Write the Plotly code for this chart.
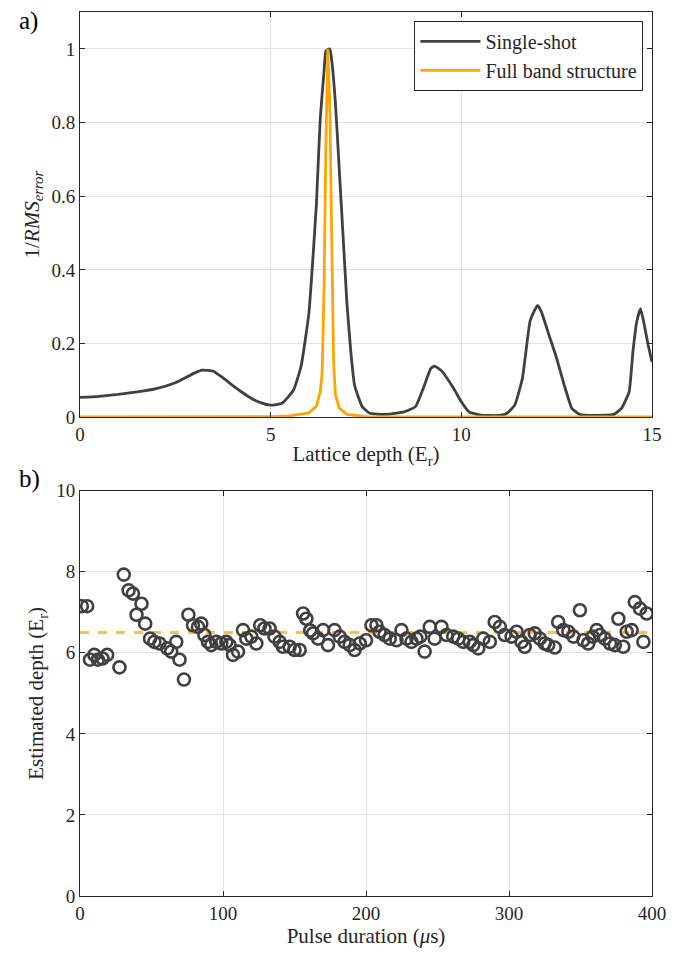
import plotly.graph_objects as go
from plotly.subplots import make_subplots

# ---- Panel a data ----
depth_ss = [0, 0.5, 1, 1.5, 2, 2.5, 3, 3.2, 3.5, 3.75, 4, 4.25, 4.5, 4.75, 5, 5.3, 5.6, 5.8, 6.0,
            6.1, 6.2, 6.3, 6.4, 6.45, 6.55, 6.6, 6.7, 6.8, 6.9, 7.0, 7.1, 7.2, 7.4, 7.6, 8.0,
            8.5, 8.8, 9.0, 9.2, 9.3, 9.5, 9.8, 10.0, 10.2, 10.5, 11.0, 11.2, 11.4, 11.6, 11.8,
            11.9, 12.0, 12.1, 12.3, 12.5, 12.7, 12.9, 13.1, 13.5, 14.0, 14.2, 14.4, 14.5, 14.6,
            14.7, 14.8, 14.9, 15.0]
single_shot = [0.054, 0.057, 0.062, 0.069, 0.078, 0.094, 0.120, 0.128, 0.125, 0.107, 0.087,
               0.068, 0.051, 0.039, 0.033, 0.038, 0.074, 0.14, 0.28, 0.42, 0.58, 0.81, 0.94,
               0.995, 1.0, 0.97, 0.85, 0.67, 0.49, 0.31, 0.18, 0.087, 0.029, 0.011, 0.008,
               0.015, 0.029, 0.078, 0.133, 0.139, 0.124, 0.078, 0.042, 0.015, 0.006, 0.005,
               0.011, 0.033, 0.105, 0.26, 0.286, 0.304, 0.286, 0.223, 0.16, 0.087, 0.024,
               0.008, 0.005, 0.008, 0.024, 0.069, 0.178, 0.26, 0.295, 0.25, 0.196, 0.15]

depth_fb = [0, 2, 4, 5, 5.5, 6.0, 6.2, 6.3, 6.35, 6.4, 6.45, 6.5, 6.55, 6.6, 6.65, 6.7, 6.8,
            7.0, 7.5, 8, 10, 12, 15]
full_band = [0.001, 0.001, 0.001, 0.002, 0.004, 0.012, 0.03, 0.07, 0.12, 0.35, 0.75, 1.0,
             0.85, 0.45, 0.15, 0.06, 0.025, 0.008, 0.002, 0.001, 0.001, 0.001, 0.001]

# ---- Panel b data ----
pulse_us = [1.3, 5.0, 7.0, 10.0, 12.5, 15.7, 19.0, 27.6, 30.6, 34.0, 37.0, 39.5, 43.0, 45.6,
            49.0, 52.0, 55.6, 61.0, 63.8, 67.3, 69.6, 72.7, 75.8, 79.0, 82.5, 84.8, 87.0,
            89.5, 91.8, 95.3, 98.8, 102.3, 104.6, 107.0, 110.5, 114.0, 116.3, 119.8, 123.3,
            126.0, 129.0, 132.6, 136.0, 139.6, 142.0, 146.6, 150.0, 153.6, 156.0, 158.3,
            161.0, 163.0, 166.5, 170.0, 173.4, 178.0, 181.6, 185.0, 188.6, 192.0, 195.6,
            200.0, 203.8, 207.3, 209.5, 213.0, 216.6, 221.3, 224.8, 228.3, 231.8, 235.3,
            238.0, 241.0, 244.6, 248.0, 252.8, 256.3, 261.0, 264.5, 268.0, 272.6, 275.0,
            278.5, 282.0, 286.6, 290.0, 293.6, 297.0, 301.8, 305.3, 308.8, 311.0, 314.5,
            318.0, 321.6, 325.0, 327.4, 332.0, 334.4, 338.0, 341.5, 345.0, 349.6, 352.0,
            355.4, 358.5, 361.3, 363.6, 367.0, 370.6, 374.0, 376.5, 379.9, 382.3, 385.8,
            388.0, 391.6, 394.0, 396.3]
est_depth = [7.15, 7.15, 5.83, 5.95, 5.83, 5.86, 5.95, 5.64, 7.93, 7.54, 7.46, 6.94, 7.21,
             6.72, 6.35, 6.27, 6.23, 6.11, 6.03, 6.27, 5.83, 5.34, 6.94, 6.68, 6.64, 6.72,
             6.44, 6.27, 6.19, 6.27, 6.23, 6.27, 6.19, 5.95, 6.03, 6.56, 6.35, 6.40, 6.23,
             6.68, 6.60, 6.60, 6.40, 6.27, 6.15, 6.15, 6.07, 6.07, 6.97, 6.84, 6.55, 6.48,
             6.35, 6.56, 6.19, 6.56, 6.40, 6.27, 6.19, 6.07, 6.23, 6.31, 6.68, 6.68, 6.52,
             6.44, 6.35, 6.31, 6.56, 6.35, 6.27, 6.35, 6.40, 6.03, 6.64, 6.35, 6.64, 6.44,
             6.40, 6.35, 6.27, 6.27, 6.19, 6.11, 6.35, 6.27, 6.76, 6.64, 6.44, 6.40, 6.52,
             6.27, 6.15, 6.44, 6.48, 6.35, 6.23, 6.19, 6.13, 6.76, 6.56, 6.52, 6.40, 7.05,
             6.31, 6.23, 6.40, 6.56, 6.44, 6.35, 6.23, 6.19, 6.84, 6.15, 6.52, 6.56, 7.25,
             7.09, 6.27, 6.97]
ref_x = [0, 400]
ref_depth = [6.5, 6.5]

DARK = "#404040"
ORANGE = "#FFA500"
FONT = "Liberation Serif, DejaVu Serif, serif"

fig = make_subplots(rows=2, cols=1, vertical_spacing=0.083)

fig.add_trace(go.Scatter(x=depth_ss, y=single_shot, mode="lines", name="Single-shot",
                         line=dict(color=DARK, width=2.8, shape="spline", smoothing=0.4)),
              row=1, col=1)
fig.add_trace(go.Scatter(x=depth_fb, y=full_band, mode="lines", name="Full band structure",
                         line=dict(color=ORANGE, width=2.8)), row=1, col=1)

fig.add_trace(go.Scatter(x=ref_x, y=ref_depth, mode="lines", showlegend=False,
                         line=dict(color="rgba(255,170,0,0.75)", width=3, dash="dash")),
              row=2, col=1)
fig.add_trace(go.Scatter(x=pulse_us, y=est_depth, mode="markers", showlegend=False,
                         marker=dict(symbol="circle-open", size=12, color=DARK,
                                     line=dict(width=2.6, color=DARK))),
              row=2, col=1)

axis_common = dict(showline=True, linecolor="#262626", linewidth=1, mirror="ticks",
                   ticks="inside", ticklen=5, tickcolor="#262626", automargin=False,
                   showgrid=True, gridcolor="#e3e3e3", gridwidth=1, zeroline=False,
                   tickfont=dict(family=FONT, size=19, color="#262626"),
                   title_font=dict(family=FONT, size=21, color="#262626"))

fig.update_xaxes(**axis_common)
fig.update_yaxes(**axis_common)

fig.update_xaxes(range=[0, 15], tickvals=[0, 5, 10, 15],
                 title_text="Lattice depth (E<sub>r</sub>)", title_standoff=2, row=1, col=1)
fig.update_yaxes(range=[0, 1.1], tickvals=[0, 0.2, 0.4, 0.6, 0.8, 1],
                 ticktext=["0", "0.2", "0.4", "0.6", "0.8", "1"],
                 title_text="1/<i>RMS</i><sub><i>error</i></sub>", title_standoff=6,
                 row=1, col=1)
fig.update_xaxes(range=[0, 400], tickvals=[0, 100, 200, 300, 400],
                 title_text="Pulse duration (<i>μ</i>s)", title_standoff=2, row=2, col=1)
fig.update_yaxes(range=[0, 10], tickvals=[0, 2, 4, 6, 8, 10],
                 title_text="Estimated depth (E<sub>r</sub>)", title_standoff=6,
                 row=2, col=1)

fig.update_layout(
    width=682, height=957,
    margin=dict(l=72, r=38, t=4, b=69, autoexpand=False),
    plot_bgcolor="white", paper_bgcolor="white",
    font=dict(family=FONT, color="#262626"),
    legend=dict(x=0.985, y=0.99, xref="paper", yref="paper", xanchor="right", yanchor="top",
                bgcolor="white", bordercolor="#262626", borderwidth=1, itemwidth=60,
                font=dict(family=FONT, size=20, color="#262626"), tracegroupgap=0),
    annotations=[
        dict(text="a)", x=-0.11, y=1.008, xref="paper", yref="paper", xanchor="left",
             yanchor="top", showarrow=False, font=dict(family=FONT, size=25, color="black")),
        dict(text="b)", x=-0.11, y=0.49, xref="paper", yref="paper", xanchor="left",
             yanchor="top", showarrow=False, font=dict(family=FONT, size=25, color="black")),
    ],
)

fig.write_html("out.html")
